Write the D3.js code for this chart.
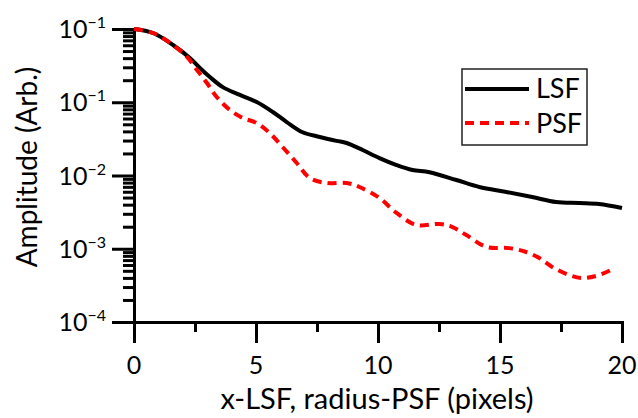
<!DOCTYPE html>
<html>
<head>
<meta charset='UTF-8'>
<title>LSF / PSF</title>
<script src='https://cdn.jsdelivr.net/npm/d3@7/dist/d3.min.js'></script>
<style>
  body { margin:0; background:#fff; }
  text { font-family: Lato, 'Open Sans', sans-serif; fill:#000; }
  .axis path, .axis line { stroke:#000; stroke-width:3px; }
</style>
</head>
<body>
<div id='chart'></div>
<script>
// data
var xLSF = [0, 0.78, 1.6, 2.29, 2.70, 3.11, 3.64, 4.34, 5.03, 5.69, 6.26, 6.91, 7.61, 8.30, 8.71, 9.37, 10.06, 10.76, 11.41, 12.11, 13.21, 14.15, 15.26, 16.32, 17.30, 18.24, 19.06, 20.0];
var yLSF = [1, 0.882, 0.605, 0.402, 0.294, 0.221, 0.161, 0.126, 0.1007, 0.0736, 0.0537, 0.039, 0.0336, 0.0297, 0.0278, 0.0223, 0.0173, 0.0139, 0.0119, 0.0111, 0.00868, 0.00697, 0.00596, 0.00508, 0.00435, 0.00421, 0.00408, 0.0036];

var xPSF = [0, 0.78, 1.6, 2.17, 2.58, 2.99, 3.39, 3.93, 4.46, 5.03, 5.56, 6.09, 6.67, 7.20, 7.89, 8.71, 9.24, 10.06, 10.76, 11.57, 12.52, 13.05, 13.62, 14.44, 15.38, 16.07, 16.61, 17.14, 17.83, 18.36, 18.94, 19.55];
var yPSF = [1, 0.882, 0.605, 0.415, 0.276, 0.183, 0.118, 0.0784, 0.061, 0.0521, 0.038, 0.0245, 0.0148, 0.00925, 0.00791, 0.00791, 0.00697, 0.00493, 0.00308, 0.00211, 0.00218, 0.00198, 0.00154, 0.00106, 0.00102, 0.000903, 0.000748, 0.000564, 0.000438, 0.000399, 0.000425, 0.000513];

var xTicks = [0, 5, 10, 15, 20];
var xMinorTicks = [2.5, 7.5, 12.5, 17.5];
var yTicks = [1e-4, 1e-3, 1e-2, 1e-1, 1];
var yTickExp = ['\u22124', '\u22123', '\u22122', '\u22121', '\u22121'];  // as labelled in the original

var seriesNames = ['LSF', 'PSF'];

var width = 638, height = 418;
var plotLeft = 134, plotRight = 622, plotTop = 29, plotBottom = 322;

var svg = d3.select('#chart').append('svg')
  .attr('width', width)
  .attr('height', height);

/* Scales */
var xScale = d3.scaleLinear().domain([0, 20]).range([plotLeft, plotRight]);
var yScale = d3.scaleLog().domain([1e-4, 1]).range([plotBottom, plotTop]);

/* minor log ticks 2..9 per decade */
var yMinor = [];
yTicks.slice(0, -1).forEach(function(d) {
  for (var k = 2; k <= 9; k++) yMinor.push(d * k);
});

/* Axes */
svg.append('g')
  .attr('class', 'axis')
  .attr('transform', `translate(${plotLeft},0)`)
  .call(d3.axisLeft(yScale).tickValues(yMinor).tickSize(11).tickSizeOuter(0).tickFormat(''));

svg.append('g')
  .attr('class', 'axis')
  .attr('transform', `translate(${plotLeft},0)`)
  .call(d3.axisLeft(yScale).tickValues(yTicks).tickSize(22).tickSizeOuter(0).tickFormat(''));

svg.append('g')
  .attr('class', 'axis')
  .attr('transform', `translate(0,${plotBottom})`)
  .call(d3.axisBottom(xScale).tickValues(xMinorTicks).tickSize(10).tickSizeOuter(0).tickFormat(''));

svg.append('g')
  .attr('class', 'axis')
  .attr('transform', `translate(0,${plotBottom})`)
  .call(d3.axisBottom(xScale).tickValues(xTicks).tickSize(21).tickSizeOuter(0).tickFormat(''));

svg.selectAll('.axis path').attr('stroke-linecap', 'square');

/* tick labels */
svg.selectAll('.xlab')
  .data(xTicks).enter()
  .append('text')
  .attr('x', d => xScale(d))
  .attr('y', plotBottom + 52)
  .attr('text-anchor', 'middle')
  .style('font-size', '25px')
  .text(d => d);

var ylab = svg.selectAll('.ylab')
  .data(yTicks).enter()
  .append('text')
  .attr('x', plotLeft - 28)
  .attr('y', d => yScale(d) + 9)
  .attr('text-anchor', 'end')
  .style('font-size', '25px');
ylab.append('tspan').text('10');
ylab.append('tspan')
  .attr('dy', -10)
  .style('font-size', '16px')
  .text((d, i) => yTickExp[i]);

/* axis titles */
svg.append('text')
  .attr('x', 377)
  .attr('y', 409)
  .attr('text-anchor', 'middle')
  .style('font-size', '29px')
  .text('x-LSF, radius-PSF (pixels)');

svg.append('text')
  .attr('transform', 'translate(37,167) rotate(-90)')
  .attr('text-anchor', 'middle')
  .style('font-size', '28px')
  .text('Amplitude (Arb.)');

/* lines */
var line = d3.line()
  .x(d => xScale(d[0]))
  .y(d => yScale(d[1]))
  .curve(d3.curveCatmullRom.alpha(0.5));

svg.append('path')
  .datum(d3.zip(xLSF, yLSF))
  .attr('d', line)
  .attr('fill', 'none')
  .attr('stroke', '#000')
  .attr('stroke-width', 4);

svg.append('path')
  .datum(d3.zip(xPSF, yPSF))
  .attr('d', line)
  .attr('fill', 'none')
  .attr('stroke', '#ff0000')
  .attr('stroke-width', 4)
  .attr('stroke-dasharray', '9,6');

/* legend */
var legend = svg.append('g').attr('transform', 'translate(462,69)');
legend.append('rect')
  .attr('width', 125).attr('height', 76)
  .attr('fill', '#fff').attr('stroke', '#222').attr('stroke-width', 1.5);

var legendStyles = [{stroke:'#000', dash:null}, {stroke:'#ff0000', dash:'9,6'}];
seriesNames.forEach(function(name, i) {
  legend.append('line')
    .attr('x1', 3).attr('x2', 67)
    .attr('y1', 20 + i * 34).attr('y2', 20 + i * 34)
    .attr('stroke', legendStyles[i].stroke)
    .attr('stroke-width', 4)
    .attr('stroke-dasharray', legendStyles[i].dash);
  legend.append('text')
    .attr('x', 74)
    .attr('y', 29 + i * 35)
    .style('font-size', '27px')
    .text(name);
});
</script>
</body>
</html>
